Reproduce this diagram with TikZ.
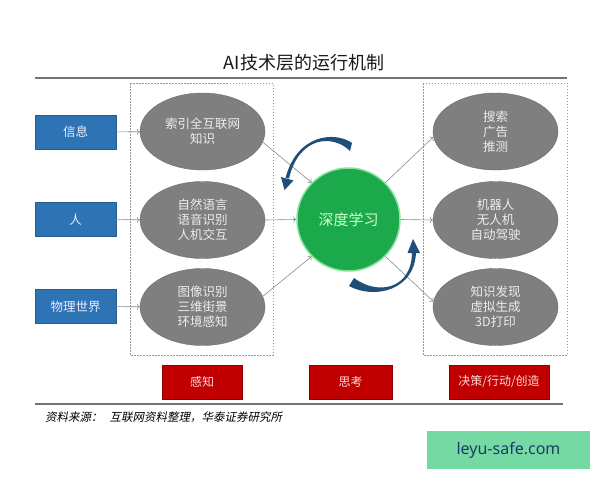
\documentclass[tikz,border=0pt]{standalone}
\usepackage{fontspec}
\setmainfont{Liberation Serif}
\newfontfamily\cjk{Noto Sans CJK SC}
\newfontfamily\cjkit[FakeSlant=0.2]{Noto Sans CJK SC}
\newfontfamily\wmfont{Noto Sans}
\usetikzlibrary{shapes.geometric,arrows.meta}
\definecolor{boxblue}{HTML}{2E74B5}
\definecolor{ellgray}{HTML}{7F7F7F}
\definecolor{dlgreen}{HTML}{1BA94C}
\definecolor{glow}{HTML}{86E39A}
\definecolor{boxred}{HTML}{C00000}
\definecolor{navy}{HTML}{1F4E79}
\definecolor{wmgreen}{HTML}{74D9A3}
\definecolor{wmtext}{HTML}{1F3A68}
\definecolor{linegray}{HTML}{8C8C8C}
\tikzset{
  inbox/.style={rectangle, fill=boxblue, draw=boxblue!80!black, line width=0.4pt,
    minimum width=81pt, minimum height=34pt, inner sep=0pt,
    text=blue!8, font=\cjk\fontsize{12.5}{15}\selectfont},
  ellbox/.style={ellipse, fill=ellgray, draw=ellgray!85!black, line width=0.4pt,
    minimum width=125pt, minimum height=77pt, inner sep=0pt, align=center,
    text=white!93!black, font=\cjk\fontsize{12.5}{15}\selectfont},
  redbox/.style={rectangle, fill=boxred, draw=boxred!75!black, line width=0.5pt,
    minimum height=34pt, inner sep=0pt,
    text=red!15, font=\cjk\fontsize{12}{14}\selectfont},
  conn/.style={draw=linegray, line width=0.6pt, -{To[length=3pt,width=6pt]}},
  dashbox/.style={draw=gray!80, line width=0.5pt, dash pattern=on 1.5pt off 1.5pt},
}
\begin{document}
\begin{tikzpicture}[x=1pt,y=-1pt]
\useasboundingbox[fill=white] (0,0) rectangle (600,480);
% title and rules
\node[font=\cjk\fontsize{18}{21}\selectfont, text=black!90] (title) at (304,63) {AI技术层的运行机制};
\draw[gray!90!black, line width=1.6pt] (35,78) -- (567,78);
\draw[gray!90!black, line width=1.2pt] (35,404) -- (563,404);
% dashed frames
\draw[dashbox] (130,83) rectangle (273,355);
\draw[dashbox] (423,83) rectangle (567,355);
% input boxes
\node[inbox] (in1) at (75.5,132) {信息};
\node[inbox] (in2) at (75.5,219.5) {人};
\node[inbox] (in3) at (75.5,306.5) {物理世界};
% left ellipses
\node[ellbox] (l1) at (202.5,131.5) {索引全互联网\\知识};
\node[ellbox] (l2) at (202.5,220) {自然语言\\语音识别\\人机交互};
\node[ellbox] (l3) at (202.5,307) {图像识别\\三维街景\\环境感知};
% right ellipses
\node[ellbox] (r1) at (495.5,131.5) {搜索\\广告\\推测};
\node[ellbox] (r2) at (495.5,220) {机器人\\无人机\\自动驾驶};
\node[ellbox] (r3) at (495.5,307) {知识发现\\虚拟生成\\3D打印};
% deep learning
\node[circle, fill=dlgreen, draw=glow, line width=1.5pt, minimum size=103pt, inner sep=0pt,
  text=green!20!white, font=\cjk\fontsize{15}{18}\selectfont] (dl) at (348.5,219.5) {深度学习};
% connectors
\draw[conn] (in1) -- (l1);
\draw[conn] (in2) -- (l2);
\draw[conn] (in3) -- (l3);
\draw[conn] (l1.-10) -- (dl.135);
\draw[conn] (l2.east) -- (dl.west);
\draw[conn] (l3.10) -- (dl.-135);
\draw[conn] (dl.45) -- (r1.185);
\draw[conn] (dl.east) -- (r2.west);
\draw[conn] (dl.-45) -- (r3.175);
% circular arrows
\fill[navy] (352,143) .. controls (335,131) and (297,134) .. (285.5,178)
  -- (289,178.5) .. controls (299,136) and (333,134) .. (350,151) -- cycle;
\fill[navy] (281,177) -- (293.5,180.5) -- (284.5,190) -- cycle;
\fill[navy] (349,286) .. controls (375,300) and (415,290) .. (416,252)
  -- (412,252) .. controls (412,289) and (378,296) .. (354,278) -- cycle;
\fill[navy] (407.5,253) -- (420,253) -- (413,239) -- cycle;
% bottom labels
\node[redbox, minimum width=80pt] (p1) at (202,382) {感知};
\node[redbox, minimum width=83pt] (p2) at (350.5,382) {思考};
\node[redbox, minimum width=100pt] (p3) at (499,382) {决策/行动/创造};
% source
\node[anchor=west, inner sep=0pt, font=\cjkit\fontsize{11.5}{13}\selectfont] (src) at (45,417) {资料来源：\hspace{0.6em}互联网资料整理，华泰证券研究所};
% watermark
\node[fill=wmgreen, minimum width=163pt, minimum height=38pt, inner sep=0pt,
  text=wmtext, font=\wmfont\fontsize{16}{19}\selectfont] (wm) at (508.5,450) {leyu-safe.com};
\end{tikzpicture}
\end{document}
